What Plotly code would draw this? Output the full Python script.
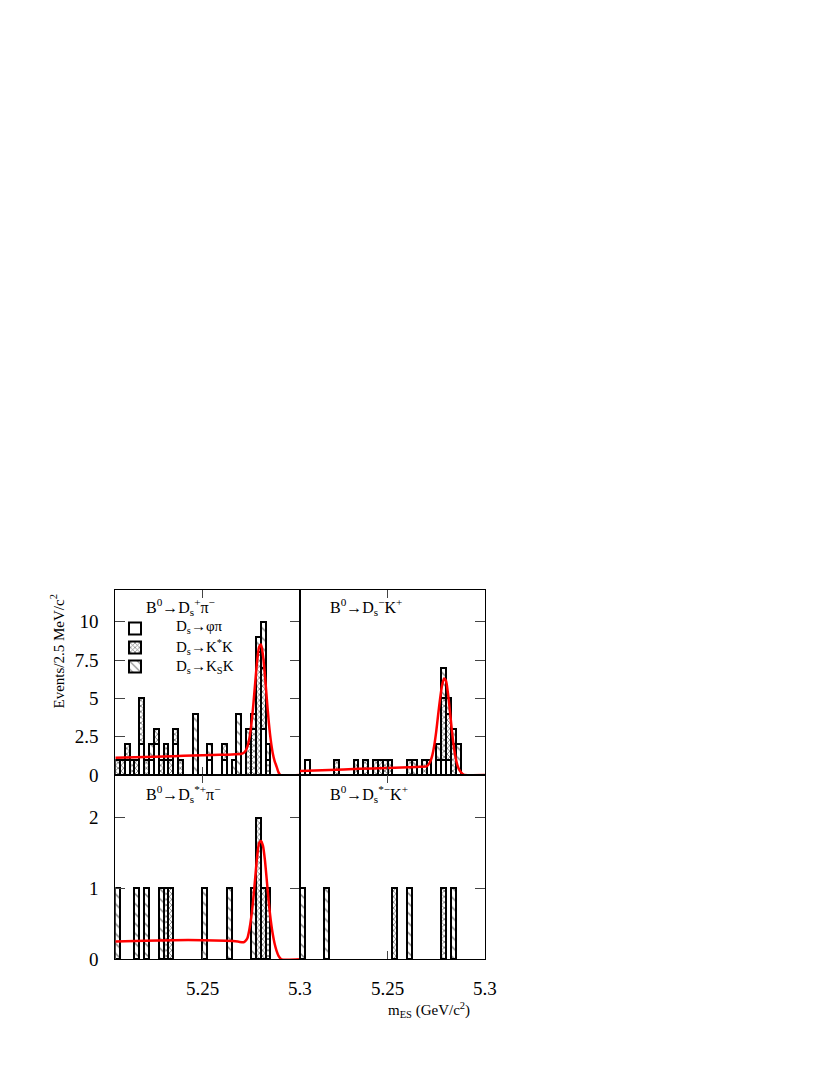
import numpy as np
import plotly.graph_objects as go

# ---------------- data ----------------
BIN_LO = 5.205      # GeV, lower edge of first bin
BIN_W = 0.0025      # GeV, 2.5 MeV bins
N_BINS = 38

# B0 -> Ds+ pi-
TL_phipi = [0,0,1,0,0,2,0,1,2,0, 1,0,2,0,0,0,0,0,0,1, 0,0,1,0,0,0,0,0,0,0, 3,0,0,0,0,0,0,0]
TL_kstk  = [1,1,1,1,1,3,1,0,1,1, 1,1,1,1,0,0,0,0,0,0, 0,0,1,0,0,0,0,2,3,8, 4,1,0,0,0,0,0,0]
TL_ksk   = [0,0,0,0,0,0,0,1,0,0, 0,0,0,0,0,0,4,0,0,1, 0,0,0,0,1,4,0,1,1,1, 3,1,0,0,0,0,0,0]
# B0 -> Ds- K+
TR_phipi = [0,1,0,0,0,0,0,0,0,0, 0,0,0,0,0,0,0,0,0,0, 0,0,0,0,0,0,1,0,1,1, 1,0,0,0,0,0,0,0]
TR_kstk  = [0,0,0,0,0,0,0,1,0,0, 0,1,0,1,0,1,1,1,1,0, 0,0,1,0,0,1,0,0,0,4, 3,2,0,0,0,0,0,0]
TR_ksk   = [0,0,0,0,0,0,0,0,0,0, 0,0,0,0,0,0,0,0,0,0, 0,0,0,1,0,0,0,0,1,2, 1,1,2,0,0,0,0,0]
# B0 -> Ds*+ pi-
BL_phipi = [0]*38
BL_kstk  = [0,0,0,0,0,0,0,0,0,0, 1,1,0,0,0,0,0,0,0,0, 0,0,0,0,0,0,0,0,0,2, 1,1,0,0,0,0,0,0]
BL_ksk   = [1,0,0,0,1,0,1,0,0,1, 0,0,0,0,0,0,0,0,1,0, 0,0,0,1,0,0,0,0,1,0, 0,0,0,0,0,0,0,0]
# B0 -> Ds*- K+
BR_phipi = [0]*38
BR_kstk  = [0,0,0,0,0,0,0,0,0,0, 0,0,0,0,0,0,0,0,0,1, 0,0,0,0,0,0,0,0,0,1, 0,0,0,0,0,0,0,0]
BR_ksk   = [1,0,0,0,0,1,0,0,0,0, 0,0,0,0,0,0,0,0,0,0, 0,0,1,0,0,0,0,0,0,0, 0,1,0,0,0,0,0,0]

# fitted curves
TL_fit_x = [5.205, 5.215, 5.225, 5.235, 5.245, 5.255, 5.265, 5.270, 5.271, 5.272, 5.273, 5.274,
            5.275, 5.276, 5.277, 5.278, 5.279, 5.280, 5.281, 5.282, 5.283, 5.284, 5.285, 5.286,
            5.287, 5.288, 5.289, 5.290, 5.300]
TL_fit_y = [1.12, 1.15, 1.19, 1.23, 1.27, 1.31, 1.34, 1.39, 1.44, 1.57, 1.85, 2.39,
            3.29, 4.55, 6.03, 7.43, 8.35, 8.51, 7.80, 6.50, 4.92, 3.43, 2.27, 1.44,
            0.91, 0.55, 0.17, 0.0, 0.0]
TR_fit_x = [5.205, 5.220, 5.235, 5.250, 5.265, 5.270, 5.271, 5.272, 5.273, 5.274, 5.275,
            5.276, 5.277, 5.278, 5.279, 5.280, 5.281, 5.282, 5.283, 5.284, 5.285, 5.286,
            5.287, 5.288, 5.289, 5.2895, 5.300]
TR_fit_y = [0.26, 0.33, 0.40, 0.46, 0.53, 0.56, 0.68, 0.90, 1.30, 1.95, 2.85,
            3.95, 5.00, 5.85, 6.30, 6.15, 5.35, 4.20, 2.95, 1.88, 1.10, 0.60,
            0.30, 0.14, 0.03, 0.0, 0.0]
BL_fit_x = [5.205, 5.220, 5.235, 5.250, 5.262, 5.268, 5.271, 5.272, 5.273, 5.274, 5.275,
            5.276, 5.277, 5.278, 5.279, 5.280, 5.281, 5.282, 5.283, 5.284, 5.285, 5.286,
            5.287, 5.288, 5.289, 5.2905, 5.300]
BL_fit_y = [0.25, 0.26, 0.27, 0.27, 0.26, 0.25, 0.24, 0.26, 0.30, 0.42, 0.60,
            0.85, 1.15, 1.45, 1.64, 1.67, 1.60, 1.40, 1.10, 0.80, 0.55, 0.36,
            0.22, 0.12, 0.05, 0.0, 0.0]

TOP_TICKS = [0, 2.5, 5, 7.5, 10]
TOP_TICKTEXT = ["0", "2.5", "5", "7.5", "10"]
BOT_TICKS = [0, 1, 2]
BOT_TICKTEXT = ["0", "1", "2"]
X_TICKS = [5.25, 5.3]
X_TICKTEXT = ["5.25", "5.3"]

MODE_NAMES = ["D<sub>s</sub>→φπ", "D<sub>s</sub>→K<sup>*</sup>K", "D<sub>s</sub>→K<sub>S</sub>K"]
TITLES = ["B<sup>0</sup>→D<sub>s</sub><sup>+</sup>π<sup>−</sup>",
          "B<sup>0</sup>→D<sub>s</sub><sup>−</sup>K<sup>+</sup>",
          "B<sup>0</sup>→D<sub>s</sub><sup>*+</sup>π<sup>−</sup>",
          "B<sup>0</sup>→D<sub>s</sub><sup>*−</sup>K<sup>+</sup>"]

# ---------------- figure ----------------
W, H = 830, 1075
OFF = 8          # page body margin in the browser
FONT = "Liberation Serif"
centers = BIN_LO + BIN_W * (np.arange(N_BINS) + 0.5)

def px(x):
    return (x - OFF) / W

def py(y):
    return 1 - (y - OFF) / H

XL = [px(115.3), px(300)]
XR = [px(300), px(485)]
YT = [py(775), py(590)]
YB = [py(959.3), py(775)]

patterns = [
    dict(shape=""),
    dict(shape="x", size=4, solidity=0.4, fgcolor="black", bgcolor="white"),
    dict(shape="\\", size=7, solidity=0.2, fgcolor="black", bgcolor="white"),
]

fig = go.Figure()

panels = [
    ("x", "y", (TL_phipi, TL_kstk, TL_ksk), (TL_fit_x, TL_fit_y), True),
    ("x2", "y2", (TR_phipi, TR_kstk, TR_ksk), (TR_fit_x, TR_fit_y), False),
    ("x3", "y3", (BL_phipi, BL_kstk, BL_ksk), (BL_fit_x, BL_fit_y), False),
    ("x4", "y4", (BR_phipi, BR_kstk, BR_ksk), None, False),
]

for xa, ya, comps, fit, show in panels:
    for k, vals in enumerate(comps):
        yv = [v if v else None for v in vals]
        fig.add_trace(go.Bar(
            x=centers, y=yv, width=BIN_W, xaxis=xa, yaxis=ya,
            name="\u00a0", showlegend=show,
            marker=dict(color="white", line=dict(color="black", width=2),
                        pattern=patterns[k]),
            hoverinfo="skip",
        ))
    if fit is not None:
        fig.add_trace(go.Scatter(
            x=fit[0], y=fit[1], xaxis=xa, yaxis=ya, mode="lines",
            line=dict(color="red", width=2.5, shape="spline", smoothing=0.6),
            showlegend=False, hoverinfo="skip",
        ))

common_x = dict(range=[5.205, 5.30005], tickvals=X_TICKS, ticktext=X_TICKTEXT,
                ticks="inside", ticklen=8, showline=True, linecolor="black", linewidth=1,
                mirror="ticks", showgrid=False, zeroline=False, automargin=False,
                tickfont=dict(family=FONT, size=19, color="black"), ticklabelstandoff=12)
common_y = dict(ticks="inside", ticklen=10, showline=True, linecolor="black", linewidth=1,
                showgrid=False, zeroline=False, automargin=False,
                tickfont=dict(family=FONT, size=19, color="black"), ticklabelstandoff=12)

fig.update_layout(
    width=W, height=H, autosize=False,
    margin=dict(l=0, r=0, t=0, b=0, pad=0),
    paper_bgcolor="white", plot_bgcolor="white",
    barmode="stack", bargap=0,
    font=dict(family=FONT, color="black"),
    xaxis=dict(domain=XL, anchor="y", showticklabels=False, **common_x),
    xaxis2=dict(domain=XR, anchor="y2", showticklabels=False, **common_x),
    xaxis3=dict(domain=XL, anchor="y3", showticklabels=True, **common_x),
    xaxis4=dict(domain=XR, anchor="y4", showticklabels=True, **common_x),
    yaxis=dict(domain=YT, anchor="x", range=[0, 12.07], tickvals=TOP_TICKS,
               ticktext=TOP_TICKTEXT, mirror="ticks", **common_y),
    yaxis2=dict(domain=YT, anchor="x2", range=[0, 12.07], tickvals=TOP_TICKS,
                ticktext=TOP_TICKTEXT, side="right", mirror=True,
                showticklabels=False, **common_y),
    yaxis3=dict(domain=YB, anchor="x3", range=[0, 2.6], tickvals=BOT_TICKS,
                ticktext=BOT_TICKTEXT, mirror="ticks", **common_y),
    yaxis4=dict(domain=YB, anchor="x4", range=[0, 2.6], tickvals=BOT_TICKS,
                ticktext=BOT_TICKTEXT, side="right", mirror=True,
                showticklabels=False, **common_y),
    legend=dict(x=px(115), y=py(614), xanchor="left", yanchor="top",
                bgcolor="rgba(0,0,0,0)", font=dict(family=FONT, size=12, color="black"),
                traceorder="normal", itemwidth=30, tracegroupgap=0),
)

# legend labels (drawn as text next to the legend swatches)
for k, yy in enumerate([627, 647, 667]):
    fig.add_annotation(text=MODE_NAMES[k], x=px(174), y=py(yy), xref="paper", yref="paper",
                       xanchor="left", yanchor="middle", showarrow=False,
                       font=dict(family=FONT, size=15, color="black"))

title_pos = [(144, 607), (328, 607), (144, 794), (328, 794)]
for txt, (tx, ty) in zip(TITLES, title_pos):
    fig.add_annotation(text=txt, x=px(tx), y=py(ty), xref="paper", yref="paper",
                       xanchor="left", yanchor="middle", showarrow=False,
                       font=dict(family=FONT, size=16, color="black"))

fig.add_annotation(text="Events/2.5 MeV/c<sup>2</sup>", x=px(57), y=py(651.5),
                   xref="paper", yref="paper", textangle=-90, showarrow=False,
                   xanchor="center", yanchor="middle",
                   font=dict(family=FONT, size=15, color="black"))
fig.add_annotation(text="m<sub>ES</sub> (GeV/c<sup>2</sup>)", x=px(472), y=py(1010),
                   xref="paper", yref="paper", showarrow=False,
                   xanchor="right", yanchor="middle",
                   font=dict(family=FONT, size=15, color="black"))

fig.write_html("out.html")
